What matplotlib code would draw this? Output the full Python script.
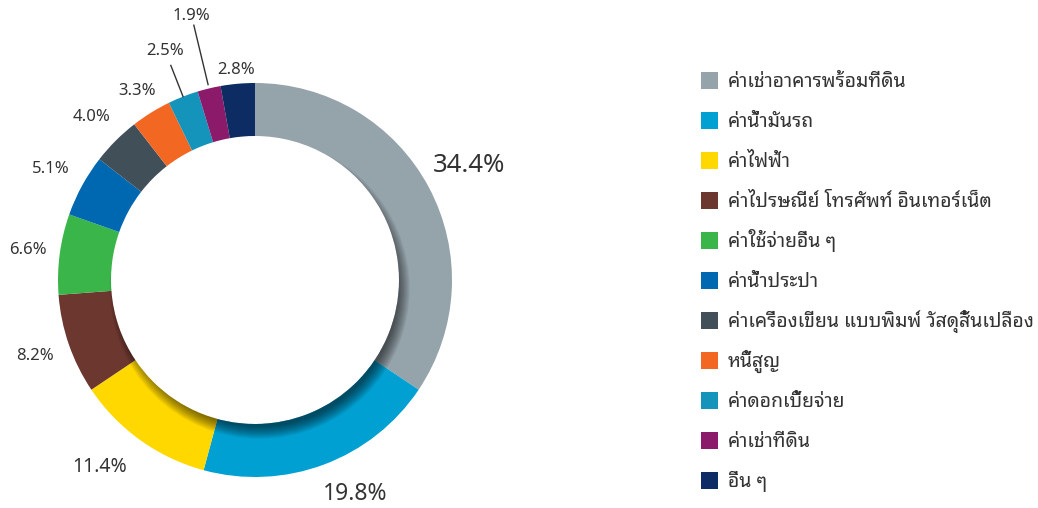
import numpy as np
import matplotlib
matplotlib.use("Agg")
import matplotlib.pyplot as plt
from matplotlib.patches import Rectangle, Circle, Wedge

plt.rcParams['font.family'] = ['Noto Sans Thai Looped', 'DejaVu Sans']

categories = [
    'ค่าเช่าอาคารพร้อมที่ดิน',
    'ค่าน้ำมันรถ',
    'ค่าไฟฟ้า',
    'ค่าไปรษณีย์ โทรศัพท์ อินเทอร์เน็ต',
    'ค่าใช้จ่ายอื่น ๆ',
    'ค่าน้ำประปา',
    'ค่าเครื่องเขียน แบบพิมพ์ วัสดุสิ้นเปลือง',
    'หนี้สูญ',
    'ค่าดอกเบี้ยจ่าย',
    'ค่าเช่าที่ดิน',
    'อื่น ๆ',
]
values = [34.4, 19.8, 11.4, 8.2, 6.6, 5.1, 4.0, 3.3, 2.5, 1.9, 2.8]
colors = ['#95a3aa', '#00a0d2', '#ffd800', '#6b372f', '#3ab54a', '#0067b1',
          '#414f58', '#f26722', '#1493bb', '#8c1a6a', '#0d2c63']

# label distance from centre (in outer radii), angle nudge (deg), sizes, leader lines
label_r = [1.23, 1.20, 1.235, 1.18, 1.165, 1.18, 1.17, 1.13, 1.25, 1.38, 1.07]
label_da = [0, 4.5, -4, 0, 0, 0, 0, 0, 0, 0, 0]
label_size = [18.5, 16.5, 14, 12, 12, 12, 12, 12, 12, 12, 12]
leader = {8: (1.0, 1.17), 9: (1.02, 1.33)}

W, H = 1038, 508
cx, cy = 255, 280
R, ring = 197, 53
txt = '#333333'

fig = plt.figure(figsize=(W / 100, H / 100), dpi=100)
ax = fig.add_axes([0, 0, 1, 1])

wedges, _ = ax.pie(values, colors=colors, radius=R, center=(0, 0), startangle=90,
                   counterclock=False, wedgeprops=dict(width=ring, linewidth=0))
ax.set_xlim(-cx, W - cx)
ax.set_ylim(-(H - cy), cy)
ax.set_aspect('equal')
ax.axis('off')

# soft inner shadow cast by the hole towards the lower right
clip = Wedge((0, 0), R, 0, 360, width=ring, transform=ax.transData)
r_in = R - ring
sx, sy = 10 * np.cos(np.deg2rad(-62)), 10 * np.sin(np.deg2rad(-62))
for e in range(-6, 7):
    c = Circle((sx, sy), r_in + e, color='black', alpha=0.05, lw=0)
    ax.add_patch(c)
    c.set_clip_path(clip)

total = sum(values)
start = 90.0
for i, v in enumerate(values):
    mid_deg = start - v / total * 180
    start -= v / total * 360
    mid = np.deg2rad(mid_deg)
    lab = np.deg2rad(mid_deg + label_da[i])
    r = label_r[i] * R
    ax.text(r * np.cos(lab), r * np.sin(lab), f'{v:.1f}%', ha='center', va='center',
            fontsize=label_size[i], color=txt)
    if i in leader:
        a, b = leader[i]
        ax.plot([a * R * np.cos(mid), b * R * np.cos(mid)],
                [a * R * np.sin(mid), b * R * np.sin(mid)], color=txt, lw=1)

# legend: one row every 40 px, square 17 px
for i, (name, c) in enumerate(zip(categories, colors)):
    yc = cy - (80 + 40 * i)
    ax.add_patch(Rectangle((701 - cx, yc - 8.5), 17, 17, color=c, lw=0))
    ax.text(728 - cx, yc - 7, name, ha='left', va='baseline', fontsize=14, color=txt)

fig.savefig('out.png', dpi=100)
